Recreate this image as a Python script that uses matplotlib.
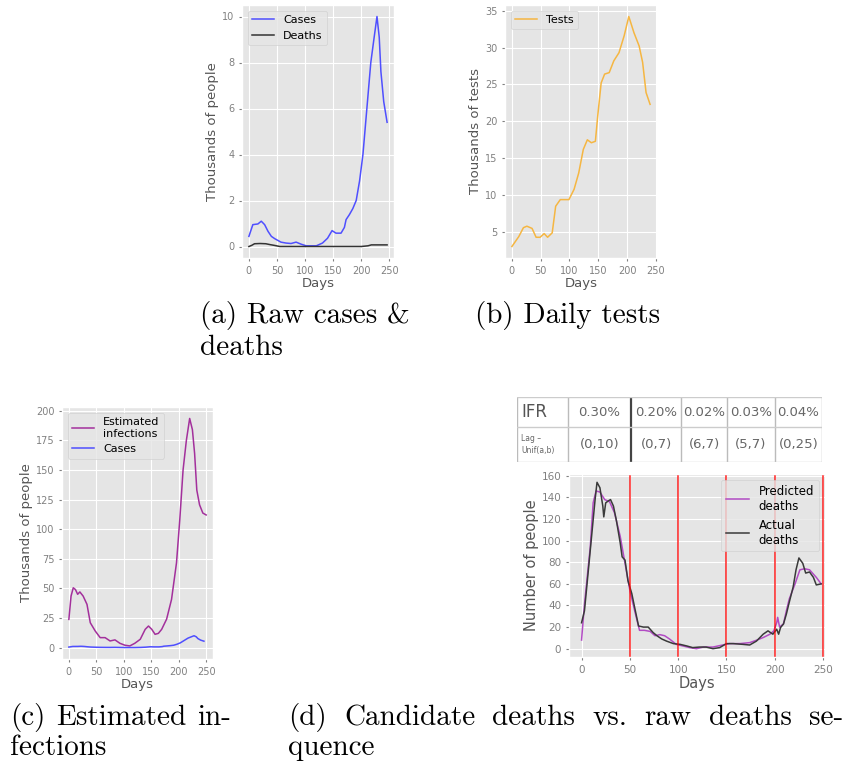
import numpy as np
import matplotlib
matplotlib.use("Agg")
import matplotlib.pyplot as plt
from matplotlib.ticker import MultipleLocator

# (a) raw cases and deaths, thousands of people
case_days = [0, 7, 16, 22, 28, 34, 40, 46, 57, 66, 75, 84, 93, 102, 120, 131, 140, 148,
             155, 164, 170, 173, 179, 185, 191, 197, 203, 210, 217, 223, 228, 232, 235,
             240, 246]
cases = [0.44, 0.95, 0.98, 1.1, 0.95, 0.66, 0.44, 0.34, 0.19, 0.15, 0.13, 0.19, 0.10,
         0.03, 0.03, 0.15, 0.36, 0.69, 0.58, 0.58, 0.83, 1.17, 1.39, 1.65, 2.0, 2.85,
         4.0, 6.0, 8.0, 9.1, 10.0, 9.1, 7.6, 6.3, 5.4]
death_days = [0, 5, 10, 20, 30, 38, 45, 55, 100, 200, 212, 218, 246]
deaths_k = [0.0, 0.05, 0.12, 0.13, 0.12, 0.08, 0.05, 0.0, 0.0, 0.0, 0.03, 0.07, 0.07]

# (b) daily tests, thousands
test_days = [0, 12, 20, 26, 35, 42, 49, 56, 62, 70, 76, 84, 93, 99, 108, 116, 124, 131,
             138, 145, 149, 155, 161, 169, 177, 186, 195, 203, 212, 221, 227, 233, 240]
tests = [3.05, 4.4, 5.6, 5.8, 5.5, 4.3, 4.3, 4.8, 4.3, 4.9, 8.5, 9.4, 9.4, 9.4, 10.8,
         13.0, 16.2, 17.5, 17.1, 17.3, 20.7, 25.2, 26.4, 26.6, 28.2, 29.3, 31.6, 34.2,
         32.0, 30.2, 28.0, 23.9, 22.3]

# (c) estimated infections, thousands
inf_days = [0, 4, 8, 12, 16, 20, 26, 33, 39, 48, 57, 66, 75, 84, 93, 102, 111, 120, 130,
            139, 145, 151, 157, 163, 169, 178, 187, 196, 202, 208, 214, 220, 225, 229,
            233, 238, 244, 250]
infections = [23.8, 43.5, 50.5, 49.0, 45.0, 47.0, 43.5, 36.5, 21.0, 14.0, 8.4, 8.4, 5.6,
              6.5, 3.6, 2.0, 1.4, 3.6, 7.0, 15.4, 18.2, 15.4, 11.2, 12.0, 15.4, 24.0,
              40.7, 71.5, 108.0, 150.0, 175.0, 193.5, 184.0, 164.0, 133.0, 120.6, 113.6,
              112.0]

# (d) predicted vs actual deaths, people per day
pred_days = [0, 3, 9, 12, 15, 19, 24, 29, 34, 40, 45, 50, 55, 60, 65, 71, 76, 81, 86,
             91, 98, 105, 112, 119, 126, 136, 146, 153, 164, 174, 181, 188, 195, 199,
             202, 203, 205, 209, 212, 215, 221, 226, 231, 236, 243, 248]
pred_deaths = [8, 41, 94, 135, 146, 145, 138, 136, 126, 104, 79, 54, 35, 17, 17, 16, 12,
               13, 12, 9, 4, 2.5, 1, 0, 1.5, 1.5, 3.4, 4.7, 4.7, 5.6, 7.8, 10.3, 13.4,
               16.5, 24, 29, 20, 23, 35, 46, 60, 73, 74, 73, 66, 60]
act_days = [0, 3, 9, 14, 16, 19, 22, 23, 25, 28, 30, 33, 36, 40, 42, 45, 48, 52, 55, 59,
            64, 69, 74, 78, 83, 88, 95, 102, 109, 115, 122, 129, 136, 143, 150, 157, 167,
            174, 181, 188, 193, 198, 202, 204, 206, 209, 212, 215, 219, 222, 225, 229,
            232, 236, 240, 243, 248]
act_deaths = [24, 35, 91, 138, 154, 149, 132, 122, 135, 137, 138, 132, 119, 98, 85, 82,
              63, 51, 38, 21, 20, 20, 15, 12, 9, 7, 4.7, 4, 2.5, 1, 1.5, 1.5, 0, 1, 4.7,
              4.7, 4, 3.4, 7, 13.4, 16.5, 13.4, 18, 13.4, 19.6, 22.8, 32, 43, 57, 73, 84,
              79, 70, 71, 66, 59, 60]
split_days = [50, 100, 150, 200, 250]

ifr = ["0.30%", "0.20%", "0.02%", "0.03%", "0.04%"]
lags = ["(0,10)", "(0,7)", "(6,7)", "(5,7)", "(0,25)"]
col_w = [51, 63, 50, 46, 48, 47]

plt.style.use("ggplot")
W, H = 853, 768
fig = plt.figure(figsize=(W / 100, H / 100), dpi=100)
fig.patch.set_facecolor("white")


def box(l, t, r, b):
    return [l / W, 1 - b / H, (r - l) / W, (b - t) / H]


def style(ax, ylabel, fs_tick=7, fs_lab=9.5):
    ax.tick_params(labelsize=fs_tick, colors="#808080", length=2)
    ax.set_xlabel("Days", fontsize=fs_lab, color="#555555", labelpad=1)
    ax.set_ylabel(ylabel, fontsize=fs_lab, color="#555555", labelpad=2)
    ax.set_xticks([0, 50, 100, 150, 200, 250])


# (a)
ax = fig.add_axes(box(242, 5, 394, 258))
ax.plot(case_days, cases, color="#4f4fff", lw=1.1, label="Cases")
ax.plot(death_days, deaths_k, color="#333333", lw=1.1, label="Deaths")
style(ax, "Thousands of people")
ax.legend(loc="upper left", fontsize=8)

# (b)
ax = fig.add_axes(box(505, 5, 657, 258))
ax.plot(test_days, tests, color="#f5b642", lw=1.1, label="Tests")
style(ax, "Thousands of tests")
ax.legend(loc="upper left", fontsize=8)

# (c)
ax = fig.add_axes(box(62, 407, 213, 659))
ax.plot(inf_days, infections, color="#a3309c", lw=1.1, label="Estimated\ninfections")
ax.plot(case_days, cases, color="#4f4fff", lw=1.1, label="Cases")
style(ax, "Thousands of people")
ax.legend(loc="upper left", fontsize=8)

# (d)
ax = fig.add_axes(box(569, 474, 825, 657))
ax.plot(pred_days, pred_deaths, color="#b24cc4", lw=1.1, label="Predicted\ndeaths")
ax.plot(act_days, act_deaths, color="#3a3a3a", lw=1.1, label="Actual\ndeaths")
for d in split_days:
    ax.axvline(d, color="red", lw=1.1, alpha=0.85)
style(ax, "Number of people", fs_tick=7.5, fs_lab=10.5)
ax.yaxis.set_major_locator(MultipleLocator(20))
ax.set_xlim(-13, 252)
ax.legend(loc="upper right", fontsize=8.5)

# table above (d)
tab = fig.add_axes(box(517, 397, 822, 462))
tab.set_xlim(0, sum(col_w))
tab.set_ylim(0, 65)
tab.axis("off")
edges = np.concatenate([[0], np.cumsum(col_w)])
for i, x in enumerate(edges):
    if i == 2:
        tab.plot([x, x], [0, 65], color="#444444", lw=1.6)
    else:
        tab.plot([x, x], [0, 65], color="#bbbbbb", lw=1)
for y in [0, 35, 65]:
    tab.plot([0, edges[-1]], [y, y], color="#cccccc", lw=1)
tab.text(4, 50, "IFR", fontsize=12, color="#555555", va="center")
tab.text(4, 17.5, "Lag \u2013\nUnif(a,b)", fontsize=5.5, color="#666666", va="center",
         linespacing=1.3)
for i in range(5):
    cx = (edges[i + 1] + edges[i + 2]) / 2
    tab.text(cx, 50, ifr[i], fontsize=9.5, color="#666666", ha="center", va="center")
    tab.text(cx, 17.5, lags[i], fontsize=9.5, color="#666666", ha="center", va="center")

# captions
cap = dict(fontname="cmr10", fontsize=21, color="black", va="center")


def line(x, y, s):
    fig.text(x / W, 1 - y / H, s, **cap)


def justify(words, x0, x1, y):
    r = fig.canvas.get_renderer()
    ts = [fig.text(0, 1 - y / H, w, **cap) for w in words]
    ws = [t.get_window_extent(r).width for t in ts]
    gap = max((x1 - x0 - sum(ws)) / (len(ws) - 1), 4)
    x = x0
    for t, w in zip(ts, ws):
        t.set_x(x / W)
        x += w + gap


line(200, 316, "(a) Raw cases &")
line(200, 348, "deaths")
line(475, 316, "(b) Daily tests")
justify(["(c)", "Estimated", "in-"], 10, 231, 718)
line(10, 748, "fections")
justify(["(d)", "Candidate", "deaths", "vs.", "raw", "deaths", "se-"], 288, 843, 718)
line(288, 748, "quence")

fig.savefig("out.png", dpi=100)
